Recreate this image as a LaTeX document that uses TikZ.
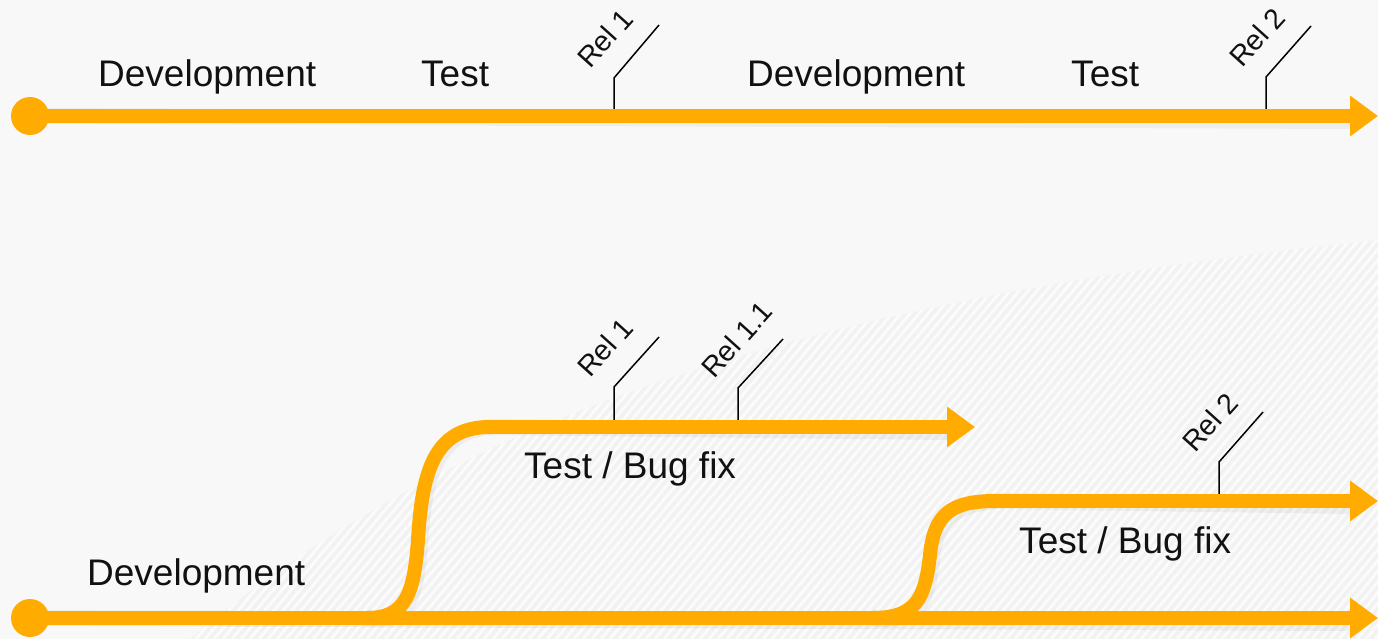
\documentclass[tikz,border=0pt]{standalone}
\usepackage{fontspec}
\setmainfont{Liberation Sans}
\usetikzlibrary{arrows.meta,calc}
\definecolor{flow}{HTML}{FFAB00}
\definecolor{bgc}{HTML}{F8F8F8}
\definecolor{hatchbg}{HTML}{F2F2F2}
\definecolor{inkc}{HTML}{111111}
\begin{document}
\begin{tikzpicture}[x=1pt,y=-1pt,
  flowline/.style={draw=flow, line width=14pt},
  flowarrow/.style={flowline, -{Triangle[length=28pt,width=39pt]}},
  shadowline/.style={draw=black, line width=16pt, opacity=0.045},
  phase/.style={font=\fontsize{37}{42}\selectfont, text=inkc, anchor=base west, inner sep=0pt},
  rel/.style={font=\fontsize{28.5}{32}\selectfont, text=inkc, anchor=base west, inner sep=0pt, rotate=48},
  tickline/.style={draw=black, line width=1.5pt}
]
\useasboundingbox (0,0) rectangle (1378,639);
% background
\fill[bgc] (0,0) rectangle (1378,639);
\begin{scope}
  \clip (190,639) .. controls (450,420) and (800,300) .. (1378,240) -- (1378,639) -- cycle;
  \fill[hatchbg] (0,0) rectangle (1378,639);
  \foreach \i in {-560,-551,...,1400}
    \draw[white, line width=3pt, opacity=0.7] (\i,639) -- ++(536,-639);
\end{scope}

% coordinates
\coordinate (t0) at (30,116);
\coordinate (t1) at (1378,116);
\coordinate (b0) at (30,618);
\coordinate (b1) at (1378,618);
\coordinate (s1a) at (367,618);
\coordinate (s1b) at (490,427);
\coordinate (u1) at (975,427);
\coordinate (s2a) at (872,618);
\coordinate (s2b) at (995,501);
\coordinate (u2) at (1378,501);

% tick marks
\coordinate (r1base) at (614,116); \coordinate (r1elb) at (614,78);  \coordinate (r1top) at (659,25);
\coordinate (r2base) at (1266,116); \coordinate (r2elb) at (1266,77); \coordinate (r2top) at (1311,26);
\coordinate (q1base) at (614,427); \coordinate (q1elb) at (614,387); \coordinate (q1top) at (659,337);
\coordinate (q11base) at (738,427); \coordinate (q11elb) at (738,388); \coordinate (q11top) at (783,339);
\coordinate (q2base) at (1219,501); \coordinate (q2elb) at (1219,462); \coordinate (q2top) at (1263,412);
\foreach \n in {r1,r2,q1,q11,q2}
  \draw[tickline] (\n base) -- (\n elb) -- (\n top);

% shadows
\begin{scope}[shift={(2,5)}]
  \draw[shadowline] (t0) -- (1350,116);
  \draw[shadowline] (b0) -- (1350,618);
  \draw[shadowline] (s1b) -- (945,427);
  \draw[shadowline] (s2b) -- (1350,501);
  \draw[shadowline] (s1a) .. controls (405,618) and (414,595) .. (418,540) .. controls (422,470) and (435,427) .. (s1b);
  \draw[shadowline] (s2a) .. controls (915,618) and (925,600) .. (930,555) .. controls (934,515) and (950,501) .. (s2b);
\end{scope}

% flow lines
\draw[flowarrow] (t0) -- (t1);
\fill[flow] (t0) circle[radius=19pt];
\draw[flowarrow] (b0) -- (b1);
\fill[flow] (b0) circle[radius=19pt];
\draw[flowline] (s1a) .. controls (405,618) and (414,595) .. (418,540) .. controls (422,470) and (435,427) .. (s1b);
\draw[flowarrow] (s1b) -- (u1);
\draw[flowline] (s2a) .. controls (915,618) and (925,600) .. (930,555) .. controls (934,515) and (950,501) .. (s2b);
\draw[flowarrow] (s2b) -- (u2);

% phase labels
\node[phase] (dev1) at (98,87) {Development};
\node[phase] (test1) at (421,87) {Test};
\node[phase] (dev2) at (747,87) {Development};
\node[phase] (test2) at (1071,87) {Test};
\node[phase] (dev3) at (87,585) {Development};
\node[phase] (fix1) at (524,478) {Test / Bug fix};
\node[phase] (fix2) at (1019,553) {Test / Bug fix};

% release labels
\node[rel] (lr1) at ($(r1elb)+(-24,-8)$) {Rel 1};
\node[rel] (lr2) at ($(r2elb)+(-24,-8)$) {Rel 2};
\node[rel] (lq1) at ($(q1elb)+(-24,-8)$) {Rel 1};
\node[rel] (lq11) at ($(q11elb)+(-24,-8)$) {Rel 1.1};
\node[rel] (lq2) at ($(q2elb)+(-24,-8)$) {Rel 2};
\end{tikzpicture}
\end{document}
